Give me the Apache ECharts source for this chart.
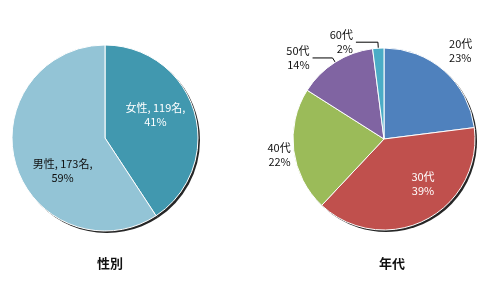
<!DOCTYPE html>
<html>
<head>
<meta charset="utf-8">
<script src="https://cdn.jsdelivr.net/npm/echarts@6/dist/echarts.min.js"></script>
<style>
html,body{margin:0;padding:0;background:#fff;}
#c{width:480px;height:300px;}
</style>
</head>
<body>
<div id="c"></div>
<script>
// ---- data ----
const genderCategories = ['女性', '男性'];
const genderCounts = [119, 173];
const genderPercents = [41, 59];
const genderColors = ['#4198AF', '#93C4D6'];

const ageCategories = ['20代', '30代', '40代', '50代', '60代'];
const agePercents = [23, 39, 22, 14, 2];
const ageColors = ['#4F81BD', '#C0504D', '#9BBB59', '#8064A2', '#4BACC6'];

const chartTitles = ['性別', '年代'];

// ---- build ----
const FONT = '"Noto Sans CJK JP", "Noto Sans", sans-serif';
const chart = echarts.init(document.getElementById('c'), null, {renderer: 'canvas'});

const leftCenter = [105, 138];
const rightCenter = [384, 139];
const leftR = 93;
const rightR = 91;

const genderData = genderCategories.map((n, i) => ({
  name: n,
  value: genderCounts[i],
  itemStyle: {color: genderColors[i]},
  label: {color: i === 0 ? '#fff' : '#111'}
}));

const ageLabelCfg = [
  {pos: 'outside', line: false, len: 27, len2: 0, color: '#111'},
  {pos: 'inside', line: false, len: 0, len2: 0, color: '#fff'},
  {pos: 'outside', line: false, len: 0, len2: 0, color: '#111'},
  {pos: 'outside', line: true, len: 5, len2: 20, color: '#111'},
  {pos: 'outside', line: true, len: 6, len2: 22, color: '#111'}
];

const ageData = ageCategories.map((n, i) => ({
  name: n,
  value: agePercents[i],
  itemStyle: {color: ageColors[i]},
  label: {position: ageLabelCfg[i].pos, color: ageLabelCfg[i].color},
  labelLine: {show: ageLabelCfg[i].line, length: ageLabelCfg[i].len, length2: ageLabelCfg[i].len2}
}));

const genderShift = [[3, -9], [5, 19]];
const ageShift = [[-16, 0], [17, 2], [0, 4], [0, 0], [0, 0]];

const shadowStyle = {color: 'rgba(0,0,0,0.85)', borderWidth: 0};

chart.setOption({
  animation: false,
  backgroundColor: '#fff',
  title: [
    {text: chartTitles[0], left: 105, top: 252, textAlign: 'center',
     textStyle: {fontFamily: FONT, fontSize: 13, fontWeight: 'bold', color: '#111'}},
    {text: chartTitles[1], left: 387, top: 252, textAlign: 'center',
     textStyle: {fontFamily: FONT, fontSize: 13, fontWeight: 'bold', color: '#111'}}
  ],
  series: [
    {
      type: 'pie', silent: true, z: 1,
      center: [leftCenter[0] + 2, leftCenter[1] + 2], radius: leftR,
      startAngle: 90, label: {show: false}, labelLine: {show: false},
      itemStyle: shadowStyle,
      data: genderCounts.map(v => ({value: v}))
    },
    {
      type: 'pie', silent: true, z: 1,
      center: [rightCenter[0] + 2, rightCenter[1] + 2], radius: rightR,
      startAngle: 90, label: {show: false}, labelLine: {show: false},
      itemStyle: shadowStyle,
      data: agePercents.map(v => ({value: v}))
    },
    {
      type: 'pie', z: 2, avoidLabelOverlap: false,
      center: leftCenter, radius: leftR, startAngle: 90,
      itemStyle: {borderColor: '#fff', borderWidth: 1},
      label: {
        position: 'inside', fontFamily: FONT, fontSize: 11, lineHeight: 14,
        formatter: p => p.name + ', ' + genderCounts[p.dataIndex] + '名,\n' + genderPercents[p.dataIndex] + '%'
      },
      labelLayout: p => ({dx: genderShift[p.dataIndex][0], dy: genderShift[p.dataIndex][1]}),
      data: genderData
    },
    {
      type: 'pie', z: 2, avoidLabelOverlap: false,
      center: rightCenter, radius: rightR, startAngle: 90,
      itemStyle: {borderColor: '#fff', borderWidth: 1},
      label: {
        fontFamily: FONT, fontSize: 11, lineHeight: 14, distanceToLabelLine: 3,
        bleedMargin: 0, overflow: 'none',
        formatter: p => p.name + '\n' + agePercents[p.dataIndex] + '%'
      },
      labelLine: {lineStyle: {color: '#000', width: 1}},
      labelLayout: p => ({dx: ageShift[p.dataIndex][0], dy: ageShift[p.dataIndex][1]}),
      data: ageData
    }
  ]
});
</script>
</body>
</html>
